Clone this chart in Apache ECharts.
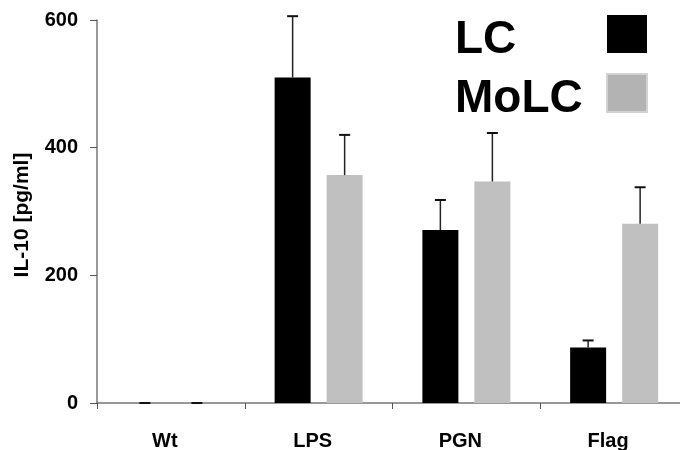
<!DOCTYPE html>
<html>
<head>
<meta charset="utf-8">
<script src="https://cdn.jsdelivr.net/npm/echarts@6/dist/echarts.min.js"></script>
<style>
  html, body { margin: 0; padding: 0; background: #fff; }
  #chart { width: 680px; height: 450px; }
</style>
</head>
<body>
<div id="chart"></div>
<script>
// ---- data ----
const categories = ['Wt', 'LPS', 'PGN', 'Flag'];
const seriesNames = ['LC', 'MoLC'];
const lcValues = [0, 510, 271, 87];
const lcErrors = [0, 96, 47, 11];
const molcValues = [0, 357, 347, 281];
const molcErrors = [0, 63, 76, 57];
const yTicks = [0, 200, 400, 600];
const yAxisTitle = 'IL-10 [pg/ml]';

// ---- style ----
const FONT = "'Liberation Sans', Arial, sans-serif";
const BAR_W = 36;
const BAR_GAP = 16;
const colors = ['#000000', '#c0c0c0'];

function errSeries(name, values, errors, sign) {
  const data = values.map((v, i) => [i, v, v + errors[i]]);
  return {
    type: 'custom',
    name: name,
    z: 5,
    silent: true,
    data: data,
    encode: { x: 0, y: [1, 2] },
    renderItem: function (params, api) {
      const i = api.value(0);
      const lo = api.coord([i, api.value(1)]);
      const hi = api.coord([i, api.value(2)]);
      const x = lo[0] + sign * (BAR_W + BAR_GAP) / 2;
      return {
        type: 'group',
        children: [
          { type: 'line', shape: { x1: x, y1: lo[1], x2: x, y2: hi[1] },
            style: { stroke: '#222', lineWidth: 1.5 } },
          { type: 'line', shape: { x1: x - 5.5, y1: hi[1], x2: x + 5.5, y2: hi[1] },
            style: { stroke: '#111', lineWidth: 2 } }
        ]
      };
    }
  };
}

const chart = echarts.init(document.getElementById('chart'), null, { renderer: 'canvas' });
chart.setOption({
  animation: false,
  backgroundColor: '#ffffff',
  grid: { left: 97, top: 20, width: 591, height: 383, containLabel: false, outerBoundsMode: 'none' },
  legend: {
    orient: 'vertical',
    left: 450,
    top: 0,
    align: 'right',
    itemWidth: 40,
    itemHeight: 38,
    itemGap: 1,
    selectedMode: false,
    formatter: '{a|{name}}',
    textStyle: {
      color: '#000',
      fontFamily: FONT,
      fontWeight: 'bold',
      fontSize: 46,
      rich: { a: { width: 147, align: 'left', fontSize: 46, fontWeight: 'bold', fontFamily: FONT, lineHeight: 46, padding: [12, 0, 0, 0], color: '#000' } }
    },
    data: [
      { name: seriesNames[0], icon: 'rect', itemStyle: { color: '#000' } },
      { name: seriesNames[1], icon: 'rect', itemStyle: { color: '#b3b3b3', borderColor: '#d2d2d2', borderWidth: 2 } }
    ]
  },
  xAxis: {
    type: 'category',
    data: categories,
    boundaryGap: true,
    axisLine: { lineStyle: { color: '#777', width: 1.5 } },
    axisTick: { show: true, length: 6, lineStyle: { color: '#555', width: 1 } },
    axisLabel: { color: '#000', fontFamily: FONT, fontWeight: 'bold', fontSize: 20, margin: 28, padding: [0, 12, 0, 0] }
  },
  yAxis: {
    type: 'value',
    min: yTicks[0],
    max: yTicks[yTicks.length - 1],
    interval: yTicks[1] - yTicks[0],
    name: yAxisTitle,
    nameLocation: 'middle',
    nameGap: 64,
    nameRotate: 90,
    nameTextStyle: { color: '#000', fontFamily: FONT, fontWeight: 'bold', fontSize: 21, padding: [0, 7, 0, 0] },
    splitLine: { show: false },
    axisLine: { show: true, lineStyle: { color: '#777', width: 1.5 } },
    axisTick: { show: true, length: 7, lineStyle: { color: '#555', width: 1 } },
    axisLabel: { color: '#000', fontFamily: FONT, fontWeight: 'bold', fontSize: 20, margin: 19 }
  },
  series: [
    { type: 'bar', name: seriesNames[0], data: lcValues, barWidth: BAR_W, barGap: (BAR_GAP / BAR_W * 100) + '%',
      itemStyle: { color: colors[0] } },
    { type: 'bar', name: seriesNames[1], data: molcValues, barWidth: BAR_W,
      itemStyle: { color: colors[1] } },
    errSeries('LC error', lcValues, lcErrors, -1),
    errSeries('MoLC error', molcValues, molcErrors, 1)
  ]
});
</script>
</body>
</html>
